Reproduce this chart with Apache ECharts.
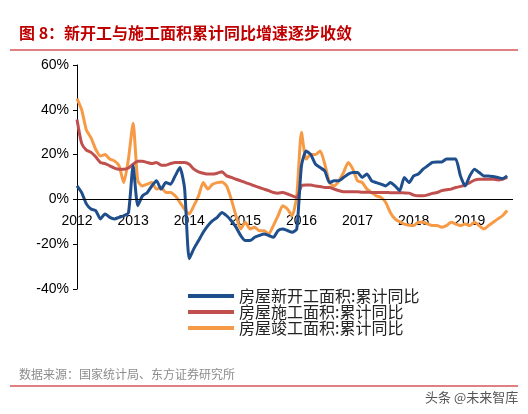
<!DOCTYPE html>
<html><head><meta charset="utf-8">
<script src="https://cdn.jsdelivr.net/npm/echarts@6/dist/echarts.min.js"></script>
<style>body{margin:0;background:#fff}#c{width:528px;height:414px}</style>
</head><body><div id="c"></div>
<script>
// monthly cumulative YoY, starting 2012 (month index 0)
var newStart = [6,3,-2,-4.3,-5,-8.7,-6.5,-8,-8.7,-8,-7.3,-6,15,-2.8,1.6,3,6,8.3,4.6,7.5,6.8,10.5,14.2,5,
  -26.5,-22,-18.4,-14.7,-11.7,-9.5,-8,-5.8,-7.3,-9.5,-12.4,-16.1,-18.4,-18.4,-16.9,-16.1,-15.4,-16.1,-16.9,-13.9,-13.2,-13.9,-14.7,-13.2,
  15,21.6,20,15.7,14.2,12.7,7.5,8.3,8.3,9.8,11.3,12,12,9.8,11.3,8.3,7.5,6.8,6,7.5,6,3.9,9.8,7.5,
  10.5,11.3,13.5,15,16.5,16.7,16.7,18,18,18,10.5,6,10.5,13.5,12,10.5,10.5,10.2,9.8,9.3,10.5];
var underConst = [35.7,25,22,21,19,16.5,16,15,14,13.5,13.5,14,15.7,17,17,16.5,16,16.5,15.3,15.3,16,16.5,16.5,16.5,
  15.7,13.5,12.3,11.7,11.3,11.3,11.7,12.3,10.5,9.8,9,8.3,7.5,6.8,6,5.3,4.6,3.9,3.1,2.8,3.1,2.4,1.6,0.9,
  6,6.4,6.4,6,5.8,5.3,5.3,4.6,3.9,3.4,3.4,3.4,3.4,3.2,3.2,3.1,3.1,3.1,3.1,3,3,3,2.9,2.8,
  1.9,1.6,1.6,2,2.7,3.1,3.9,4.3,4.6,5.3,5.8,6.4,7.5,8.6,9,9,9,9,8.7,9,9.8];
var completed = [45,40,31,27.5,22.4,19.4,20,18,17.2,15,7.5,18,34,8.3,6,6.8,7.5,4.6,5.3,3.1,3.1,1.6,-1.3,-4.3,
  -6.5,-2.8,1.6,7.5,4.6,6.8,7.5,7.8,6,0,-7.3,-13.2,-10.2,-13.2,-12.4,-14,-14,-15.4,-11.7,-7.3,-2.8,-4.3,-7.3,1.6,
  30,18,20,20,21.6,15.7,7.5,6,8.3,12,16.5,13.5,8.3,7.5,4.6,3.1,1.6,0.9,-1.3,-5.8,-8.7,-10,-11,-11.5,
  -11.7,-10.2,-10.2,-11,-11.7,-11.7,-12.4,-11.7,-10.2,-11,-11.7,-11,-11.7,-10.2,-11.7,-13.2,-11.7,-10.2,-8.7,-7.3,-5];
var names = ['房屋新开工面积:累计同比','房屋施工面积:累计同比','房屋竣工面积:累计同比'];
var colors = ['#1f4e8c','#c0504d','#f79a46'];
function pts(a){ return a.map(function(v,i){ return [2012 + i/12, v]; }); }
var chart = echarts.init(document.getElementById('c'));
var font = 'Liberation Sans, Arial, sans-serif';
chart.setOption({
  animation:false,
  textStyle:{fontFamily:font},
  title:[
    {text:'图 8：新开工与施工面积累计同比增速逐步收敛',left:14,top:20,
     textStyle:{color:'#c00000',fontSize:16,fontWeight:'bold',fontFamily:'Noto Sans CJK SC'}},
    {text:'数据来源：国家统计局、东方证券研究所',left:14,top:363,
     textStyle:{color:'#8c8c8c',fontSize:12,fontWeight:'normal',fontFamily:'Noto Sans CJK SC'}},
    {text:'头条 @未来智库',left:420,top:386,
     textStyle:{color:'#555',fontSize:13,fontWeight:'normal',fontFamily:'Noto Sans CJK SC'}}
  ],
  graphic:[
    {type:'line',shape:{x1:10,y1:50,x2:518,y2:50},style:{stroke:'#c00000',lineWidth:1}},
    {type:'line',shape:{x1:10,y1:386,x2:518,y2:386},style:{stroke:'#c00000',lineWidth:1}}
  ],
  grid:{left:77,right:15,top:65,bottom:125},
  legend:{orient:'vertical',left:183,top:283,itemGap:0,itemWidth:46,itemHeight:4,
    icon:'rect',textStyle:{fontSize:16,color:'#222',fontFamily:'Noto Sans CJK SC'},data:names},
  xAxis:{type:'value',min:2012,max:2019.77,interval:1,
    axisLine:{onZero:false,show:false},axisTick:{show:false},
    axisLabel:{color:'#000',fontSize:14,margin:-75,showMaxLabel:false,formatter:function(v){return String(v);}},
    splitLine:{show:false}},
  yAxis:{type:'value',min:-40,max:60,interval:20,
    axisLine:{show:true,lineStyle:{color:'#000'}},axisTick:{show:true,length:4},
    axisLabel:{color:'#000',fontSize:14,formatter:'{value}%'},splitLine:{show:false}},
  series:[newStart,underConst,completed].map(function(d,i){
    var s = {name:names[i],type:'line',data:pts(d),showSymbol:false,smooth:0.2,
      lineStyle:{width:3,color:colors[i]},itemStyle:{color:colors[i]},z:[3,2,1][i]};
    if(i===0){ s.markLine = {silent:true,symbol:'none',label:{show:false},
      lineStyle:{color:'#000',width:1,type:'solid'},data:[{yAxis:0}]}; }
    return s;
  })
});
</script></body></html>
